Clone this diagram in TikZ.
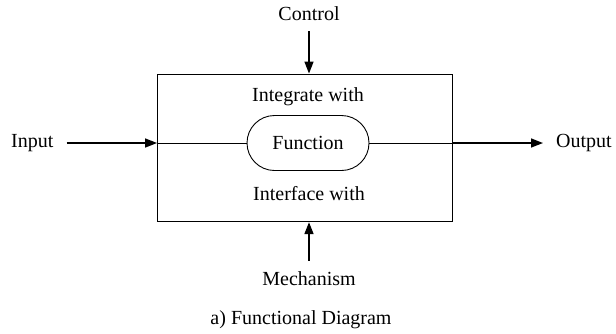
\documentclass[tikz,border=0pt]{standalone}
\usepackage{fontspec}
\setmainfont{Liberation Serif}
\usetikzlibrary{arrows.meta,shapes.misc}
\begin{document}
\begin{tikzpicture}[x=1pt,y=-1pt,
  lbl/.style={font=\fontsize{20}{24}\selectfont, inner sep=0pt, anchor=base},
  arr/.style={-{Triangle[length=12pt,width=9pt]}, line width=1.5pt},
  thinln/.style={line width=0.9pt}]
\useasboundingbox (0,0) rectangle (616,333);
\node[draw, thinln, minimum width=294.5pt, minimum height=147.7pt, inner sep=0pt] (box) at (304.75,147.85) {};
\node[draw, thinln, rounded rectangle, minimum width=122pt, minimum height=55pt, inner sep=0pt,
      font=\fontsize{20}{24}\selectfont] (fn) at (308,143) {Function};
\node[lbl] (ctrl) at (309,20.7) {Control};
\node[lbl] (integ) at (308,101.7) {Integrate with};
\node[lbl] (inter) at (309,200) {Interface with};
\node[lbl] (mech) at (309,285) {Mechanism};
\node[lbl] (cap) at (301,324) {a) Functional Diagram};
\node[lbl, anchor=west] (in) at (11,143) {Input};
\node[lbl, anchor=west] (out) at (556,143) {Output};
% connectors
\draw[arr, shorten <=10pt] (ctrl.south) -- (ctrl.south |- box.north);
\draw[arr, shorten <=13pt] (in.east) -- (in.east -| box.west);
\draw[thinln] (in.east -| box.west) -- (fn.west);
\draw[thinln] (fn.east) -- (fn.east -| box.east);
\draw[arr, shorten >=13pt] (fn.east -| box.east) -- (out.west);
\draw[arr, shorten <=10pt] (mech.north) -- (mech.north |- box.south);
\end{tikzpicture}
\end{document}
